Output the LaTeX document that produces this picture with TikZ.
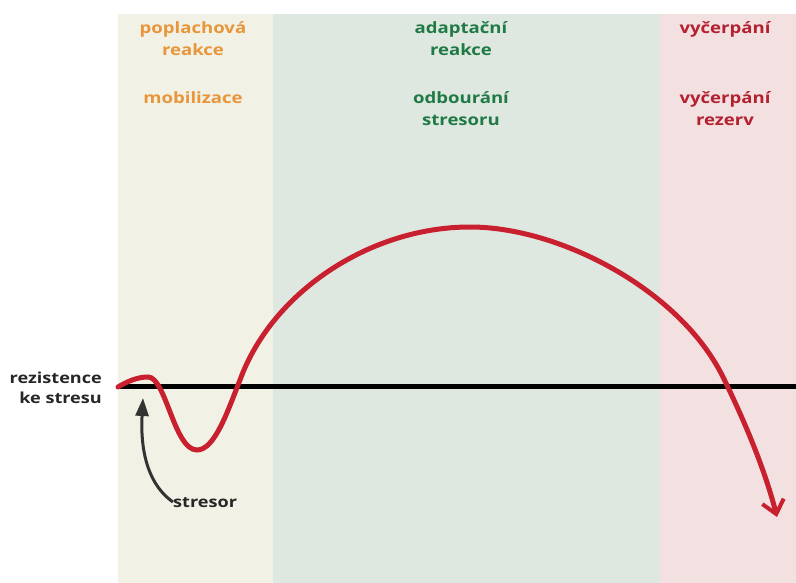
\documentclass[tikz,border=0pt]{standalone}
\usepackage{fontspec}
\setmainfont{Open Sans}
\newfontfamily\labfont[FakeStretch=1.19]{Open Sans}
\usetikzlibrary{arrows.meta}
\definecolor{bandA}{HTML}{F1F1E5}
\definecolor{bandB}{HTML}{DFE8E0}
\definecolor{bandC}{HTML}{F3E1E1}
\definecolor{txtA}{HTML}{E9963A}
\definecolor{txtB}{HTML}{1F7A45}
\definecolor{txtC}{HTML}{B3202F}
\definecolor{curve}{HTML}{C8202E}
\definecolor{arrowgray}{HTML}{333333}
\tikzset{
  lab/.style={font=\labfont\bfseries\fontsize{15.6}{20}\selectfont, anchor=base, inner sep=0pt},
  axislab/.style={font=\labfont\bfseries\fontsize{15.2}{20}\selectfont, anchor=base east, inner sep=0pt, text=black!85},
}
\begin{document}
\begin{tikzpicture}[x=1pt,y=-1pt]
\useasboundingbox (0,0) rectangle (796,583);
\fill[bandA] (118,14) rectangle (273,583);
\fill[bandB] (273,14) rectangle (660,583);
\fill[bandC] (660,14) rectangle (796,583);
% labels
\node[lab,text=txtA] (alarm1) at (193,33.5) {poplachová};
\node[lab,text=txtA] (alarm2) at (193,55.5) {reakce};
\node[lab,text=txtA] (mobil) at (193,103.5) {mobilizace};
\node[lab,text=txtB] (adapt1) at (461,33.5) {adaptační};
\node[lab,text=txtB] (adapt2) at (461,55.5) {reakce};
\node[lab,text=txtB] (odbour1) at (461,103.5) {odbourání};
\node[lab,text=txtB] (odbour2) at (461,125.5) {stresoru};
\node[lab,text=txtC] (exh) at (725,33.5) {vyčerpání};
\node[lab,text=txtC] (exhres1) at (725,103.5) {vyčerpání};
\node[lab,text=txtC] (exhres2) at (725,125.5) {rezerv};
\node[axislab] (resist1) at (102,383.5) {rezistence};
\node[axislab] (resist2) at (102,403.5) {ke stresu};
% baseline
\coordinate (bl0) at (118,386);
\coordinate (bl1) at (796,386);
\draw[line width=5pt, black] (bl0) -- (bl1);
% curve
\coordinate (c0) at (118,387);
\coordinate (c1) at (148,377);
\coordinate (c2) at (197,450);
\coordinate (c3) at (240,380);
\coordinate (c4) at (470,227);
\coordinate (c5) at (723,377);
\coordinate (c6) at (777,517);
\draw[curve, line width=5pt, line cap=round, -{Straight Barb[length=13pt,width=22pt,line width=4pt]}]
  (c0) .. controls (128,381) and (138,377) .. (c1)
       .. controls (166,377) and (174,450) .. (c2)
       .. controls (215,450) and (228,410) .. (c3)
       .. controls (272,292) and (370,227) .. (c4)
       .. controls (560,227) and (680,290) .. (c5)
       .. controls (745,422) and (765,470) .. (c6);
% stresor
\node[font=\labfont\bfseries\fontsize{15.2}{20}\selectfont, anchor=base west, inner sep=0pt, text=black!85] (stres) at (173,507) {stresor};
\coordinate (stip) at (143,398);
\draw[arrowgray, line width=3pt, -{Triangle[length=18pt,width=13pt]}]
  (stres.west) .. controls (150,486) and (140,455) .. (stip);
\end{tikzpicture}
\end{document}
